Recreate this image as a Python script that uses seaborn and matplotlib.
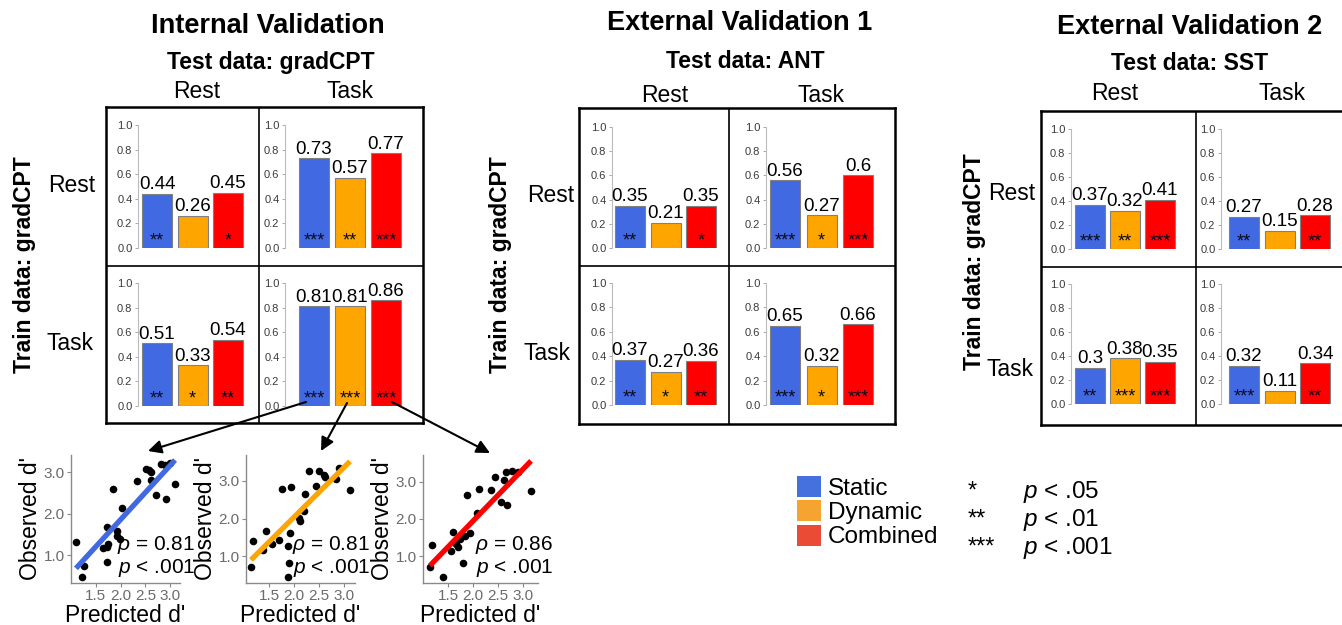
import numpy as np
import pandas as pd
import matplotlib
matplotlib.use("Agg")
import matplotlib.pyplot as plt
import seaborn as sns
from matplotlib.patches import Patch, FancyArrowPatch
from matplotlib.ticker import FormatStrFormatter

# ---------------- data ----------------
models = ["Static", "Dynamic", "Combined"]

# rows = train network (Rest, Task); cols = test network (Rest, Task)
internal_rest_rest = [0.44, 0.26, 0.45]
internal_rest_task = [0.73, 0.57, 0.77]
internal_task_rest = [0.51, 0.33, 0.54]
internal_task_task = [0.81, 0.81, 0.86]
internal_rest_rest_sig = ["**", "", "*"]
internal_rest_task_sig = ["***", "**", "***"]
internal_task_rest_sig = ["**", "*", "**"]
internal_task_task_sig = ["***", "***", "***"]

ext1_rest_rest = [0.35, 0.21, 0.35]
ext1_rest_task = [0.56, 0.27, 0.60]
ext1_task_rest = [0.37, 0.27, 0.36]
ext1_task_task = [0.65, 0.32, 0.66]
ext1_rest_rest_sig = ["**", "", "*"]
ext1_rest_task_sig = ["***", "*", "***"]
ext1_task_rest_sig = ["**", "*", "**"]
ext1_task_task_sig = ["***", "*", "***"]

ext2_rest_rest = [0.37, 0.32, 0.41]
ext2_rest_task = [0.27, 0.15, 0.28]
ext2_task_rest = [0.30, 0.38, 0.35]
ext2_task_task = [0.32, 0.11, 0.34]
ext2_rest_rest_sig = ["***", "**", "***"]
ext2_rest_task_sig = ["**", "", "**"]
ext2_task_rest_sig = ["**", "***", "***"]
ext2_task_task_sig = ["***", "", "**"]

# scatter: predicted vs observed d' (internal validation, task->task)
static_pred = [1.10, 1.26, 1.23, 1.64, 1.73, 1.75, 1.72, 1.72, 1.93, 1.93, 1.98, 1.84,
               2.03, 2.34, 2.51, 2.58, 2.62, 2.61, 2.72, 2.81, 2.90, 3.00, 2.92, 3.10]
static_obs = [1.31, 0.75, 0.47, 1.17, 1.20, 1.27, 0.84, 1.67, 1.59, 1.47, 1.40, 2.59,
              2.14, 2.78, 3.07, 3.04, 3.00, 2.82, 2.45, 3.20, 3.18, 3.21, 2.36, 2.71]
dynamic_pred = [1.13, 1.17, 1.37, 1.44, 1.56, 1.69, 1.76, 1.94, 1.92, 1.88, 1.90, 1.88,
                2.09, 2.11, 2.19, 2.22, 2.30, 2.43, 2.49, 2.59, 2.62, 2.83, 2.90, 3.12]
dynamic_obs = [0.73, 1.41, 1.17, 1.67, 1.32, 1.43, 2.79, 2.83, 1.63, 1.28, 0.84, 0.45,
               2.02, 1.93, 2.20, 2.66, 3.26, 2.87, 3.26, 3.16, 3.10, 3.04, 3.33, 2.76]
combined_pred = [1.13, 1.18, 1.40, 1.55, 1.60, 1.66, 1.69, 1.74, 1.80, 1.84, 1.93, 1.87,
                 2.07, 2.11, 2.36, 2.43, 2.55, 2.61, 2.65, 2.68, 2.78, 2.89, 3.16]
combined_obs = [0.71, 1.31, 0.44, 1.15, 1.66, 1.33, 1.24, 1.46, 0.81, 1.55, 1.62, 2.65,
                2.16, 2.81, 2.78, 3.13, 2.47, 3.04, 3.26, 2.38, 3.28, 3.26, 2.76]
rho_labels = ["0.81", "0.81", "0.86"]

legend_sig = ["*", "**", "***"]
legend_p = [".05", ".01", ".001"]

# ---------------- style ----------------
bar_colors = ["#4169E1", "#FFA500", "#FF0000"]
legend_colors = ["#4571DE", "#F6A431", "#E94B35"]

sns.set_style("white")
plt.rcParams["font.family"] = ["Liberation Sans", "DejaVu Sans"]
plt.rcParams["mathtext.fontset"] = "custom"
plt.rcParams["mathtext.rm"] = "Liberation Sans"
plt.rcParams["mathtext.it"] = "Liberation Sans:italic"
plt.rcParams["text.color"] = "black"
plt.rcParams["axes.labelcolor"] = "black"

W, H = 1342, 625
fig = plt.figure(figsize=(W / 100, H / 100), dpi=100)
fig.patch.set_facecolor("white")


def fx(x):
    return x / W


def fy(y):
    return 1 - y / H


def px_ax(x0, y0, x1, y1):
    return fig.add_axes([x0 / W, 1 - y1 / H, (x1 - x0) / W, (y1 - y0) / H])


groups = [
    dict(title="Internal Validation", test="Test data: gradCPT",
         values=[[internal_rest_rest, internal_rest_task], [internal_task_rest, internal_task_task]],
         sigs=[[internal_rest_rest_sig, internal_rest_task_sig], [internal_task_rest_sig, internal_task_task_sig]],
         title_xy=(268, 26), sub_xy=(271, 62), col_xy=[(197, 92), (350, 92)],
         train_xy=(25, 265), row_xy=[(72, 185), (70, 343)],
         box=(106, 107, 423, 423), mid=(259, 266),
         axis_x=[138, 285], bar0=[142, 299], spacing=[35.5, 36], y1=[125, 283], y0=[248, 406]),
    dict(title="External Validation 1", test="Test data: ANT",
         values=[[ext1_rest_rest, ext1_rest_task], [ext1_task_rest, ext1_task_task]],
         sigs=[[ext1_rest_rest_sig, ext1_rest_task_sig], [ext1_task_rest_sig, ext1_task_task_sig]],
         title_xy=(740, 23), sub_xy=(745, 61), col_xy=[(665, 95), (821, 95)],
         train_xy=(500, 265), row_xy=[(551, 195), (547, 353)],
         box=(579, 108, 895, 424), mid=(729, 266),
         axis_x=[612, 766], bar0=[615, 770], spacing=[35.5, 36.5], y1=[127, 283], y0=[248, 405]),
    dict(title="External Validation 2", test="Test data: SST",
         values=[[ext2_rest_rest, ext2_rest_task], [ext2_task_rest, ext2_task_task]],
         sigs=[[ext2_rest_rest_sig, ext2_rest_task_sig], [ext2_task_rest_sig, ext2_task_task_sig]],
         title_xy=(1190, 27), sub_xy=(1190, 63), col_xy=[(1115, 93), (1282, 93)],
         train_xy=(975, 262), row_xy=[(1012, 193), (1010, 370)],
         box=(1041, 111, 1352, 425), mid=(1196, 267),
         axis_x=[1071, 1221], bar0=[1075, 1229], spacing=[35, 35.5], y1=[129, 284], y0=[249, 404]),
]

BAR_PX = 30

for g in groups:
    # enclosing box with dividers
    bx0, by0, bx1, by1 = g["box"]
    box = px_ax(bx0, by0, bx1, by1)
    box.set_xlim(bx0, bx1)
    box.set_ylim(by1, by0)
    box.set_xticks([])
    box.set_yticks([])
    for sp in box.spines.values():
        sp.set_visible(True)
        sp.set_color("black")
        sp.set_linewidth(1.8)
    box.axvline(g["mid"][0], color="black", lw=1.2)
    box.axhline(g["mid"][1], color="black", lw=1.2)
    box.set_zorder(0)

    # texts
    fig.text(fx(g["title_xy"][0]), fy(g["title_xy"][1]), g["title"], ha="center", va="center",
             fontsize=19.5, weight="bold")
    fig.text(fx(g["sub_xy"][0]), fy(g["sub_xy"][1]), g["test"], ha="center", va="center",
             fontsize=16.5, weight="bold")
    for lab, (x, y) in zip(["Rest", "Task"], g["col_xy"]):
        fig.text(fx(x), fy(y), lab, ha="center", va="center", fontsize=16.5)
    for lab, (x, y) in zip(["Rest", "Task"], g["row_xy"]):
        fig.text(fx(x), fy(y), lab, ha="center", va="center", fontsize=16.5)
    fig.text(fx(g["train_xy"][0]), fy(g["train_xy"][1]), "Train data: gradCPT", ha="center",
             va="center", rotation=90, fontsize=16.5, weight="bold")

    # cells
    for r in range(2):
        for c in range(2):
            vals = g["values"][r][c]
            sigs = g["sigs"][r][c]
            s = g["spacing"][c]
            axis = g["axis_x"][c]
            c0 = g["bar0"][c] + BAR_PX / 2
            xl = -(c0 - axis) / s
            xr = 2.5
            ax = px_ax(axis, g["y1"][r], axis + (xr - xl) * s, g["y0"][r])
            ax.patch.set_alpha(0)
            df = pd.DataFrame({"model": models, "r": vals})
            sns.barplot(data=df, x="model", y="r", hue="model", palette=bar_colors,
                        order=models, hue_order=models, width=BAR_PX / s, saturation=1,
                        edgecolor="#808080", linewidth=0.8, errorbar=None, legend=False, ax=ax)
            ax.set_xlim(xl, xr)
            ax.set_ylim(0, 1)
            ax.set_xlabel("")
            ax.set_ylabel("")
            ax.set_xticks([])
            ax.set_yticks(np.arange(0, 1.01, 0.2))
            ax.yaxis.set_major_formatter(FormatStrFormatter("%.1f"))
            ax.tick_params(axis="y", left=True, length=2.5, width=0.7, color="#aaaaaa",
                           labelsize=8, labelcolor="#3a3a3a", pad=1.5)
            for side in ["top", "right", "bottom"]:
                ax.spines[side].set_visible(False)
            ax.spines["left"].set_color("#bbbbbb")
            ax.spines["left"].set_linewidth(0.8)
            ax.spines["left"].set_bounds(0, 1)
            for bar, v, sg in zip(ax.patches, vals, sigs):
                cx = bar.get_x() + bar.get_width() / 2
                ax.text(cx, v + 0.005, f"{v:g}", ha="center", va="bottom", fontsize=13.5,
                        clip_on=False)
                if sg:
                    ax.text(cx, 0.02, sg, ha="center", va="baseline", fontsize=13,
                            color="#0a0a20", clip_on=False)

# ---------------- scatter panels ----------------
scatters = [
    (static_pred, static_obs, bar_colors[0], rho_labels[0], (71, 455, 180, 583), (1.0, 3.2), (0.33, 3.41)),
    (dynamic_pred, dynamic_obs, bar_colors[1], rho_labels[1], (246, 455, 355, 583), (1.03, 3.22), (0.30, 3.68)),
    (combined_pred, combined_obs, bar_colors[2], rho_labels[2], (423, 455, 538, 583), (0.99, 3.30), (0.28, 3.72)),
]
for xs, ys, col, rho, (x0, y0, x1, y1), xlim, ylim in scatters:
    ax = px_ax(x0, y0, x1, y1)
    ax.patch.set_alpha(0)
    sns.regplot(x=np.array(xs), y=np.array(ys), ax=ax, ci=None, color=col,
                scatter_kws=dict(color="black", s=30, linewidths=0, alpha=1),
                line_kws=dict(color=col, lw=3.8, solid_capstyle="butt"))
    ax.set_xlim(*xlim)
    ax.set_ylim(*ylim)
    ax.set_xticks([1.5, 2.0, 2.5, 3.0])
    ax.set_yticks([1.0, 2.0, 3.0])
    ax.xaxis.set_major_formatter(FormatStrFormatter("%.1f"))
    ax.yaxis.set_major_formatter(FormatStrFormatter("%.1f"))
    ax.tick_params(bottom=True, left=True, length=3, width=0.8, color="#888888",
                   labelsize=11, labelcolor="#6b6b6b", pad=1.5)
    for side in ["top", "right"]:
        ax.spines[side].set_visible(False)
    for side in ["left", "bottom"]:
        ax.spines[side].set_color("#8a8a8a")
        ax.spines[side].set_linewidth(1.0)
    ax.set_xlabel("Predicted d'", fontsize=16.5, labelpad=0.5)
    ax.set_ylabel("Observed d'", fontsize=16.5, labelpad=1)
    ax.annotate(r"$\rho$ = " + rho, xy=(1, 0.295), xycoords="axes fraction",
                xytext=(11, 0), textcoords="offset points", ha="right", va="center",
                fontsize=15)
    ax.annotate(r"$p$ < .001", xy=(1, 0.115), xycoords="axes fraction",
                xytext=(11, 0), textcoords="offset points", ha="right", va="center",
                fontsize=15)

# arrows from task->task bars to scatter panels
arrows = [((306, 402), (148, 451)), ((347, 403), (321, 451)), ((392, 402), (490, 453))]
for (ax0, ay0), (ax1, ay1) in arrows:
    fig.add_artist(FancyArrowPatch((fx(ax0), fy(ay0)), (fx(ax1), fy(ay1)),
                                   transform=fig.transFigure, arrowstyle="-|>",
                                   mutation_scale=20, lw=1.5, color="black",
                                   shrinkA=0, shrinkB=0))

# ---------------- legends ----------------
handles = [Patch(facecolor=c, edgecolor="none", label=m) for c, m in zip(legend_colors, models)]
fig.legend(handles=handles, loc="upper left", bbox_to_anchor=(fx(797), fy(476)),
           frameon=False, fontsize=17.5, handlelength=0.98, handleheight=0.95,
           handletextpad=0.3, labelspacing=0.02, borderpad=0, borderaxespad=0)
for i, (sg, pv) in enumerate(zip(legend_sig, legend_p)):
    yy = 492 + i * 28
    fig.text(fx(968), fy(yy), sg, ha="left", va="center", fontsize=17)
    fig.text(fx(1023), fy(yy), r"$p$ < " + pv, ha="left", va="center", fontsize=17.5)

fig.savefig("out.png", dpi=100, facecolor="white")
